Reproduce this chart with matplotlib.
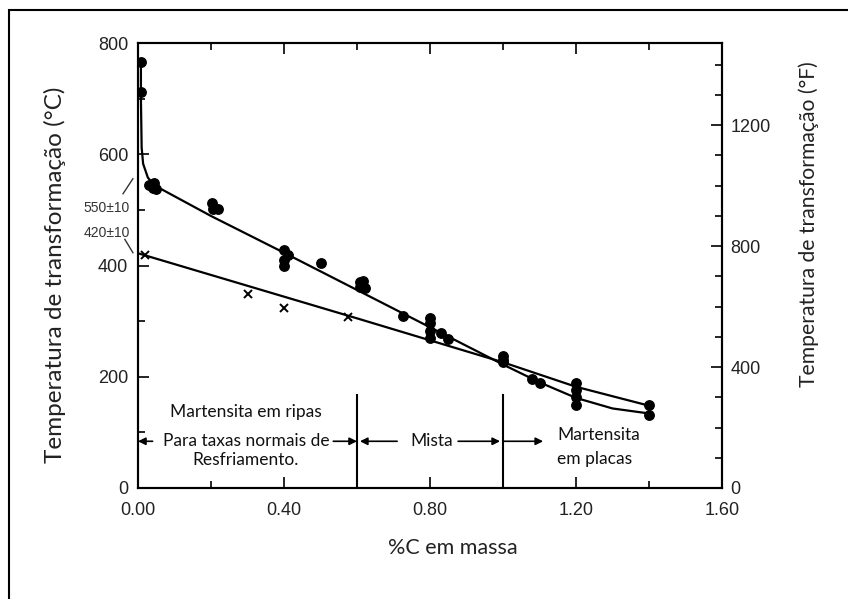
import matplotlib
matplotlib.use("Agg")
import matplotlib.pyplot as plt
from matplotlib.ticker import MultipleLocator, FixedLocator
from matplotlib.patches import Rectangle

# ---- data ----
# Ms curve through the filled circles (lath/plate start)
curveA_x = [0.008, 0.008, 0.010, 0.014, 0.027, 0.045, 0.20, 0.40, 0.60, 0.80, 1.00, 1.10, 1.20, 1.30, 1.40]
curveA_y = [765, 700, 612, 583, 558, 544, 489, 423, 356, 289, 222, 190, 162, 143, 134]
# line through the crosses
curveB_x = [0.0, 0.60, 1.00, 1.20, 1.40]
curveB_y = [422, 305, 226, 182, 148]

circles_x = [0.008, 0.008, 0.03, 0.04, 0.045, 0.05,
             0.203, 0.205, 0.219,
             0.40, 0.41, 0.40, 0.40,
             0.50,
             0.608, 0.616, 0.622, 0.608,
             0.726,
             0.80, 0.80, 0.80, 0.80, 0.83, 0.85,
             1.00, 1.00, 1.00,
             1.08, 1.10,
             1.20, 1.20, 1.20, 1.20,
             1.40, 1.40]
circles_y = [765, 712, 545, 540, 548, 538,
             513, 502, 502,
             427, 418, 409, 400,
             404,
             370, 373, 359, 361,
             309,
             306, 296, 282, 270, 278, 268,
             237, 231, 226,
             196, 188,
             188, 176, 163, 149,
             149, 131]

crosses_x = [0.02, 0.30, 0.40, 0.575]
crosses_y = [418, 349, 323, 307]

region_bounds = [0.6, 1.0]

xticks_major = [0.0, 0.4, 0.8, 1.2, 1.6]
xtick_labels = ["0.00", "0.40", "0.80", "1.20", "1.60"]
yticks_major = [0, 200, 400, 600, 800]
ftick_major = [0, 400, 800, 1200]

# ---- figure ----
W, H = 848, 599
fig = plt.figure(figsize=(W / 100, H / 100), dpi=100)
fig.patches.append(Rectangle((9 / W, -0.05), 1.0, 1.05 - 10 / H, transform=fig.transFigure,
                             fill=False, lw=1.5, ec="black", clip_on=False))

ax = fig.add_axes([138 / W, (H - 488) / H, (722 - 138) / W, (488 - 43) / H])
ax.set_xlim(0, 1.6)
ax.set_ylim(0, 800)

tickfont = dict(family="Liberation Sans", size=13, color="#222222")
labfont = ["Lato", "DejaVu Sans"]

ax.plot(curveA_x, curveA_y, color="black", lw=1.6, zorder=3)
ax.plot(curveB_x, curveB_y, color="black", lw=1.6, zorder=3)
ax.plot(circles_x, circles_y, "o", color="black", ms=6.8, zorder=4)
ax.plot(crosses_x, crosses_y, "x", color="black", ms=6, mew=1.4, zorder=4)

for xb in region_bounds:
    ax.plot([xb, xb], [0, 167], color="black", lw=1.5)

ap = dict(arrowstyle="-|>", color="black", lw=1.2, mutation_scale=11, shrinkA=0, shrinkB=0)
ya = 84
arrows = [((0.04, ya), (0.0, ya)), ((0.535, ya), (0.6, ya)),
          ((0.71, ya), (0.608, ya)), ((0.877, ya), (0.992, ya)),
          ((1.0, ya), (1.11, ya))]
for (s, e) in arrows:
    ax.annotate("", xy=e, xytext=s, arrowprops=ap)

tf = dict(family=labfont, size=12.5, color="#111111")
ax.text(0.296, 136, "Martensita em ripas", ha="center", va="center", **tf)
ax.text(0.296, 84, "Para taxas normais de", ha="center", va="center", **tf)
ax.text(0.296, 50, "Resfriamento.", ha="center", va="center", **tf)
ax.text(0.805, 84, "Mista", ha="center", va="center", **tf)
ax.text(1.148, 95, "Martensita", ha="left", va="center", **tf)
ax.text(1.148, 52, "em placas", ha="left", va="center", **tf)

# intercept labels with leaders
sf = dict(family="Liberation Sans", size=10, color="#333333", ha="center", va="center", clip_on=False)
ax.text(-0.085, 504, "550±10", **sf)
ax.text(-0.085, 459, "420±10", **sf)
ax.plot([-0.041, -0.014], [529, 556], color="#333333", lw=1.0, clip_on=False)
ax.plot([-0.036, -0.014], [447, 423], color="#333333", lw=1.0, clip_on=False)

ax.xaxis.set_major_locator(FixedLocator(xticks_major))
ax.xaxis.set_minor_locator(MultipleLocator(0.2))
ax.set_xticklabels(xtick_labels, fontdict=tickfont)
ax.yaxis.set_major_locator(FixedLocator(yticks_major))
ax.yaxis.set_minor_locator(MultipleLocator(100))
ax.set_yticklabels([str(v) for v in yticks_major], fontdict=tickfont)
ax.tick_params(which="both", direction="in", top=True, right=False, width=1.2)
ax.tick_params(which="major", length=8)
ax.tick_params(which="minor", length=5)
ax.tick_params(axis="x", pad=10)
ax.tick_params(axis="y", pad=7)
for sp in ax.spines.values():
    sp.set_linewidth(1.5)

ax2 = ax.twinx()
ax2.set_ylim(0, 1472)
ax2.yaxis.set_major_locator(FixedLocator(ftick_major))
ax2.yaxis.set_minor_locator(MultipleLocator(100))
ax2.set_yticklabels([str(v) for v in ftick_major], fontdict=tickfont)
ax2.tick_params(which="both", direction="in", width=1.2, pad=6)
ax2.tick_params(which="major", length=8)
ax2.tick_params(which="minor", length=5)
for sp in ax2.spines.values():
    sp.set_linewidth(1.5)

# axis titles placed at their reference positions
fig.text(453 / W, 1 - 548 / H, "%C em massa", family=labfont, size=15.5,
         color="#222222", ha="center", va="center")
fig.text(55 / W, 1 - 275 / H, "Temperatura de transformação (°C)", family=labfont,
         size=17.5, color="#222222", rotation=90, ha="center", va="center")
fig.text(809 / W, 1 - 224 / H, "Temperatura de transformação (°F)", family=labfont,
         size=15.2, color="#222222", rotation=90, ha="center", va="center")

fig.savefig("out.png", dpi=100)
